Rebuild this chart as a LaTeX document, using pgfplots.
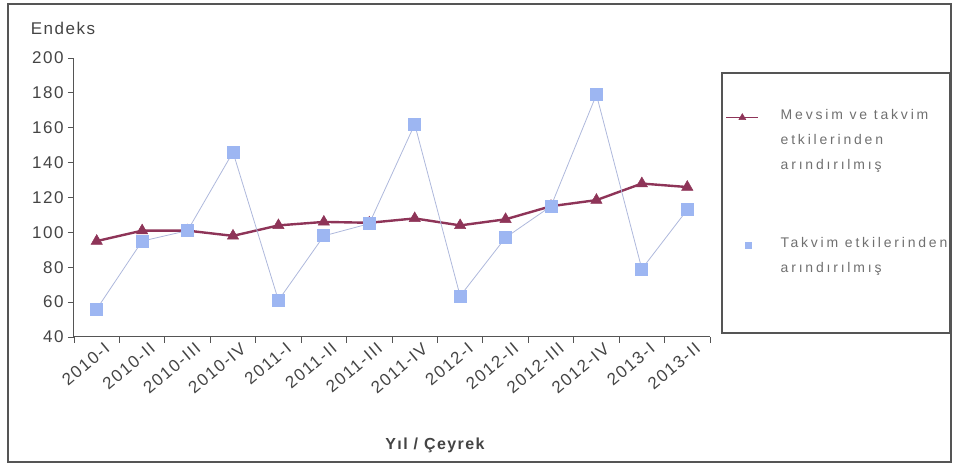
\documentclass[border=0pt]{standalone}
\usepackage{fontspec}
\setmainfont{Liberation Sans}
\newfontfamily\tickfont[LetterSpace=9]{Liberation Sans}
\newfontfamily\legfont[LetterSpace=20]{Liberation Sans}
\usepackage{pgfplots}
\pgfplotsset{compat=1.18}
\definecolor{plum}{HTML}{8E3458}
\definecolor{lblue}{HTML}{9DB6F2}
\definecolor{lline}{HTML}{AEB8DC}
\definecolor{axgray}{HTML}{555555}
\definecolor{txt}{HTML}{444444}
\definecolor{ltxt}{HTML}{707070}
\pgfplotsset{
  redleg/.style={legend image code/.code={\draw[##1, line width=0.8pt, mark size=4pt, mark repeat=2, mark phase=2] plot coordinates {(0pt,0pt) (16pt,0pt) (32pt,0pt)};}},
  blueleg/.style={legend image code/.code={\draw[##1] plot coordinates {(22pt,0pt)};}},
}

\begin{document}
\begin{tikzpicture}[x=1pt,y=1pt]
\useasboundingbox (-74,-131) rectangle (879,337);
\draw[axgray, line width=1.3pt] (-66,-125) rectangle (877,333);
\begin{axis}[
  at={(0,0)}, anchor=south west,
  scale only axis, width=636pt, height=279pt,
  xmin=0.5, xmax=14.5, ymin=40, ymax=200,
  axis x line=bottom, axis y line=left,
  axis line style={-, axgray, line width=1pt},
  ytick={40,60,...,200},
  xtick={1,...,14},
  xticklabels={2010-I,2010-II,2010-III,2010-IV,2011-I,2011-II,2011-III,2011-IV,2012-I,2012-II,2012-III,2012-IV,2013-I,2013-II},
  minor xtick={0.5,1.5,...,14.5},
  major x tick style={draw=none},
  tick align=outside,
  major tick length=6pt, minor tick length=6pt,
  tick style={axgray, line width=0.8pt},
  x tick label style={rotate=40, anchor=north east, font=\tickfont\fontsize{17}{19}\selectfont, text=txt, inner sep=1pt, xshift=7pt, yshift=-2pt},
  y tick label style={font=\tickfont\fontsize{17}{19}\selectfont, text=txt, xshift=-1pt},
  /pgf/number format/assume math mode=true,
  legend style={draw=none, fill=none, at={(axis description cs:1.02,0.83)}, anchor=north west,
    font=\legfont\fontsize{14}{25}\selectfont, text=ltxt, row sep=62pt, column sep=20pt},
  legend cell align=left,
  legend style={nodes={anchor=north west, align=left}},
  legend image post style={yshift=-10pt},
]
\addplot[plum, line width=2.4pt, mark=triangle*, mark size=6.5pt, mark options={fill=plum, line width=0.5pt}, redleg]
  coordinates {(1,95) (2,101) (3,101) (4,98) (5,104) (6,106) (7,105.5) (8,108) (9,104) (10,107.5) (11,115) (12,118.5) (13,128) (14,126)};
\addlegendentry{Mevsim ve takvim\\etkilerinden\\arındırılmış}
\addplot[lline, line width=0.8pt, mark=square*, mark size=6pt, mark options={fill=lblue, draw=lblue}, forget plot]
  coordinates {(1,56) (2,95) (3,101) (4,146) (5,61) (6,98) (7,105) (8,162) (9,63.5) (10,97) (11,115) (12,179) (13,79) (14,113)};
\addlegendimage{only marks, mark=square*, mark size=3pt, mark options={fill=lblue, draw=lblue}, blueleg}
\addlegendentry{Takvim etkilerinden\\arındırılmış}
\end{axis}
\draw[axgray, line width=1.2pt] (648,4) rectangle (876,264);
\node[text=txt, font=\tickfont\fontsize{17}{19}\selectfont] at (-11,309) {Endeks};
\node[text=txt, font=\tickfont\fontsize{16}{18}\selectfont\bfseries] at (361,-108) {Yıl / Çeyrek};
\end{tikzpicture}
\end{document}
